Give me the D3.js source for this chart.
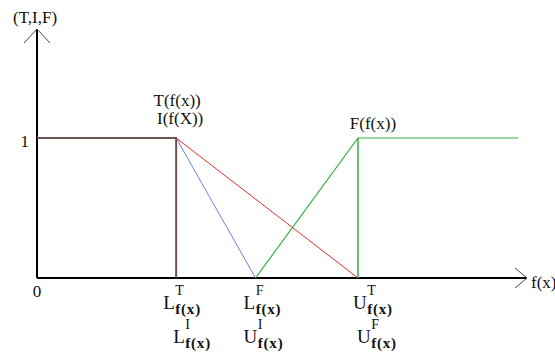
<!DOCTYPE html>
<html>
<head>
<meta charset="utf-8">
<script src="https://cdn.jsdelivr.net/npm/d3@7"></script>
<style>
  body { margin: 0; background: #fff; }
  text { font-family: "Liberation Serif", "DejaVu Serif", serif; fill: #111; }
</style>
</head>
<body>
<svg width="555" height="361"></svg>
<script>
  // break points on the f(x) axis: L^T (= L^I), L^F (= U^I), U^T (= U^F), end of F
  const breaks = [28.4, 44.6, 65.5, 98.2];

  // membership lines, [x, value]
  const brownLine = [[0, 1], [28.4, 1], [28.4, 0]];
  const redLine = [[28.4, 1], [65.5, 0]];
  const blueLine = [[28.4, 1], [44.6, 0]];
  const greenLine = [[44.6, 0], [65.5, 1], [98.2, 1]];
  const greenDrop = [[65.5, 1], [65.5, 0]];

  // tick labels under the axis: [letter, superscript]
  const tickRow1 = [['L', 'T'], ['L', 'F'], ['U', 'T']];
  const tickRow2 = [['L', 'I'], ['U', 'I'], ['U', 'F']];
  const yTicks = [0, 1];

  const svg = d3.select('svg');

  const x = d3.scaleLinear().domain([0, 100]).range([37, 527]);
  const y = d3.scaleLinear().domain([0, 1]).range([278, 138]);

  const line = d3.line()
    .x(d => x(d[0]))
    .y(d => y(d[1]));

  // axes
  svg.append('line')
    .attr('x1', x(0)).attr('y1', y(0))
    .attr('x2', x(100)).attr('y2', y(0))
    .attr('stroke', '#000').attr('stroke-width', 2);
  svg.append('line')
    .attr('x1', x(0)).attr('y1', y(0))
    .attr('x2', x(0)).attr('y2', y.range()[1] - 109)
    .attr('stroke', '#000').attr('stroke-width', 2);

  // open arrow heads
  const tipX = [x(100), y(0)];
  const tipY = [x(0), 29];
  svg.append('path')
    .attr('d', `M${tipX[0] - 12},${tipX[1] - 10}L${tipX[0]},${tipX[1]}L${tipX[0] - 12},${tipX[1] + 10}`)
    .attr('fill', 'none').attr('stroke', '#444').attr('stroke-width', 1);
  svg.append('path')
    .attr('d', `M${tipY[0] - 13},${tipY[1] + 14}L${tipY[0]},${tipY[1]}L${tipY[0] + 13},${tipY[1] + 14}`)
    .attr('fill', 'none').attr('stroke', '#444').attr('stroke-width', 1);

  // membership lines
  svg.append('path').attr('d', line(redLine))
    .attr('fill', 'none').attr('stroke', '#f02a2a').attr('stroke-width', 1);
  svg.append('path').attr('d', line(blueLine))
    .attr('fill', 'none').attr('stroke', '#7a7aea').attr('stroke-width', 1);
  svg.append('path').attr('d', line(greenLine))
    .attr('fill', 'none').attr('stroke', '#33b043').attr('stroke-width', 1.2);
  svg.append('path').attr('d', line(greenDrop))
    .attr('fill', 'none').attr('stroke', '#33b043').attr('stroke-width', 1.5);
  svg.append('path').attr('d', line(brownLine))
    .attr('fill', 'none').attr('stroke', '#6e5252').attr('stroke-width', 2);

  // axis titles
  svg.append('text').attr('x', 13).attr('y', 23)
    .style('font-size', '17px').text('(T,I,F)');
  svg.append('text').attr('x', 531).attr('y', 288)
    .style('font-size', '17px').text('f(x)');

  // y tick labels
  svg.selectAll('.ytick').data(yTicks).enter().append('text')
    .attr('class', 'ytick')
    .attr('x', d => d === 0 ? x(0) : x(0) - 8)
    .attr('y', d => d === 0 ? y(0) + 19 : y(d) + 9)
    .attr('text-anchor', d => d === 0 ? 'middle' : 'end')
    .style('font-size', '17px')
    .text(d => d);

  // curve labels
  svg.append('text').attr('x', x(breaks[0]) + 1).attr('y', 106)
    .attr('text-anchor', 'middle').style('font-size', '17px').text('T(f(x))');
  svg.append('text').attr('x', x(breaks[0]) + 4).attr('y', 124)
    .attr('text-anchor', 'middle').style('font-size', '17px').text('I(f(X))');
  svg.append('text').attr('x', x(breaks[2]) + 15).attr('y', 129)
    .attr('text-anchor', 'middle').style('font-size', '17px').text('F(f(x))');

  // tick labels with sup / sub
  const row1Shift = [-13, -12, -5];
  const row2Shift = [-3, -12, -1];

  function tickLabel(row, shifts, base) {
    row.forEach((d, i) => {
      const g = svg.append('g')
        .attr('transform', `translate(${x(breaks[i]) + shifts[i]}, ${base})`);
      const main = g.append('text').style('font-size', '19px').text(d[0]);
      const w = main.node().getComputedTextLength();
      g.append('text').attr('x', w + 0.5).attr('y', -14)
        .style('font-size', '14px').text(d[1]);
      g.append('text').attr('x', w + 0.5).attr('y', 5)
        .style('font-size', '15px').style('font-weight', 'bold')
        .style('letter-spacing', '0.8px').text('f(x)');
    });
  }
  tickLabel(tickRow1, row1Shift, 309);
  tickLabel(tickRow2, row2Shift, 343);
</script>
</body>
</html>
